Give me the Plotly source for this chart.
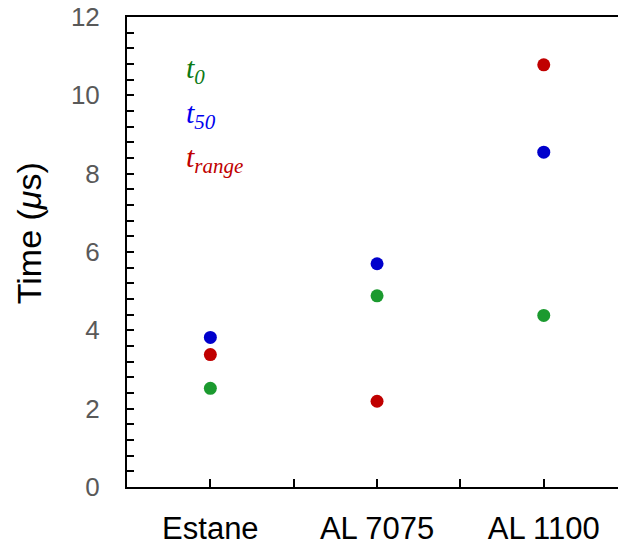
import plotly.graph_objects as go

# Materials along the x axis
materials = ["Estane", "AL 7075", "AL 1100"]
positions = [1, 2, 3]

# Characteristic times (microseconds)
t0_values = [2.52, 4.88, 4.38]
t50_values = [3.82, 5.70, 8.55]
trange_values = [3.38, 2.19, 10.78]

y_tick_vals = [0, 2, 4, 6, 8, 10, 12]

series = [
    ("t0", t0_values, "#1b9a2f"),
    ("t50", t50_values, "#0000cc"),
    ("trange", trange_values, "#c00000"),
]

fig = go.Figure()
for name, vals, color in series:
    fig.add_trace(go.Scatter(
        x=positions, y=vals, mode="markers", name=name,
        marker=dict(size=13, color=color, line=dict(width=0)),
        showlegend=False,
    ))

W, H = 618, 546
L, R, T, B = 127, 0, 17, 53
pw, ph = W - L - R, H - T - B


def px_x(px):
    return (px - L) / pw


def px_y(py):
    return (H - B - py) / ph


fig.update_layout(
    width=W, height=H,
    margin=dict(l=L, r=R, t=T, b=B, pad=0),
    paper_bgcolor="white", plot_bgcolor="white",
    font=dict(family="Liberation Sans, Arial, sans-serif"),
    xaxis=dict(
        range=[0.5, 0.5 + pw / 166.7],
        tickvals=positions,
        ticktext=materials,
        ticks="inside", ticklen=8, tickwidth=1.5, tickcolor="black",
        minor=dict(tickvals=[1.5, 2.5], ticks="inside", ticklen=8,
                   tickwidth=1.5, tickcolor="black", showgrid=False),
        showline=True, linecolor="black", linewidth=2, mirror=True,
        showgrid=False, zeroline=False,
        tickfont=dict(size=31, color="black"),
        ticklabelstandoff=13,
    ),
    yaxis=dict(
        range=[0, 12],
        tickvals=y_tick_vals,
        ticks="inside", ticklen=7, tickwidth=1.5, tickcolor="black",
        minor=dict(dtick=0.4, ticks="inside", ticklen=7, tickwidth=1.5,
                   tickcolor="black", showgrid=False),
        showline=True, linecolor="black", linewidth=2, mirror=False,
        showgrid=False, zeroline=False,
        tickfont=dict(size=26, color="#595959"),
        ticklabelstandoff=20,
    ),
)

# Axis title
fig.add_annotation(
    x=px_x(29), y=px_y(236), xref="paper", yref="paper",
    text="Time (<i>\u03bc</i>s)", textangle=-90, showarrow=False,
    font=dict(size=34, color="black", family="Liberation Sans, Arial, sans-serif"),
    xanchor="center", yanchor="middle",
)

# Series key drawn as coloured labels
key = [
    ("<i>t</i><sub><i>0</i></sub>", "#0c7a14", 71),
    ("<i>t</i><sub><i>50</i></sub>", "#0000ee", 116),
    ("<i>t</i><sub><i>range</i></sub>", "#c00000", 161),
]
for text, color, ypx in key:
    fig.add_annotation(
        x=px_x(184), y=px_y(ypx), xref="paper", yref="paper",
        text=text, showarrow=False, xanchor="left", yanchor="middle",
        font=dict(size=30, color=color, family="Liberation Serif, Times New Roman, serif"),
    )

fig.write_html("out.html")
